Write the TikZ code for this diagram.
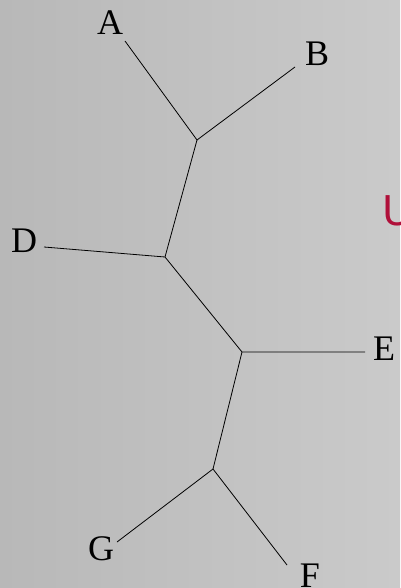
\documentclass[tikz,border=0pt]{standalone}
\usepackage{fontspec}
\setmainfont{Liberation Serif}
\newfontfamily\redsans{DejaVu Sans}
\begin{document}
\begin{tikzpicture}[x=1pt,y=-1pt,
  leaf/.style={font=\fontsize{36}{40}\selectfont, inner sep=0pt},
  branch/.style={line width=0.8pt, black}]
\useasboundingbox (0,0) rectangle (400,588);
\clip (0,0) rectangle (400,588);
\shade[left color={rgb,255:red,184;green,184;blue,184}, right color={rgb,255:red,202;green,202;blue,202}] (0,0) rectangle (400,588);
% internal junctions
\coordinate (ab) at (197,140);
\coordinate (abd) at (165,257);
\coordinate (je) at (242,352);
\coordinate (fg) at (213,469);
% leaf line ends
\coordinate (ea) at (125,41);
\coordinate (eb) at (295,67);
\coordinate (ed) at (44,247);
\coordinate (ee) at (365,352);
\coordinate (eg) at (117,542);
\coordinate (ef) at (287,565);
% labels
\node[leaf] (A) at (110,23) {A};
\node[leaf] (B) at (317,54) {B};
\node[leaf] (D) at (24,241) {D};
\node[leaf] (E) at (384,349) {E};
\node[leaf] (G) at (101,549) {G};
\node[leaf] (F) at (310,576) {F};
\node[anchor=west, inner sep=0pt, text={rgb,255:red,176;green,16;blue,58}, font=\redsans\fontsize{41}{44}\selectfont] (U) at (382,211) {U};
% branches
\draw[branch] (ea) -- (ab) -- (eb);
\draw[branch] (ab) -- (abd);
\draw[branch] (ed) -- (abd) -- (je) -- (ee);
\draw[branch] (je) -- (fg);
\draw[branch] (eg) -- (fg) -- (ef);
\end{tikzpicture}
\end{document}
